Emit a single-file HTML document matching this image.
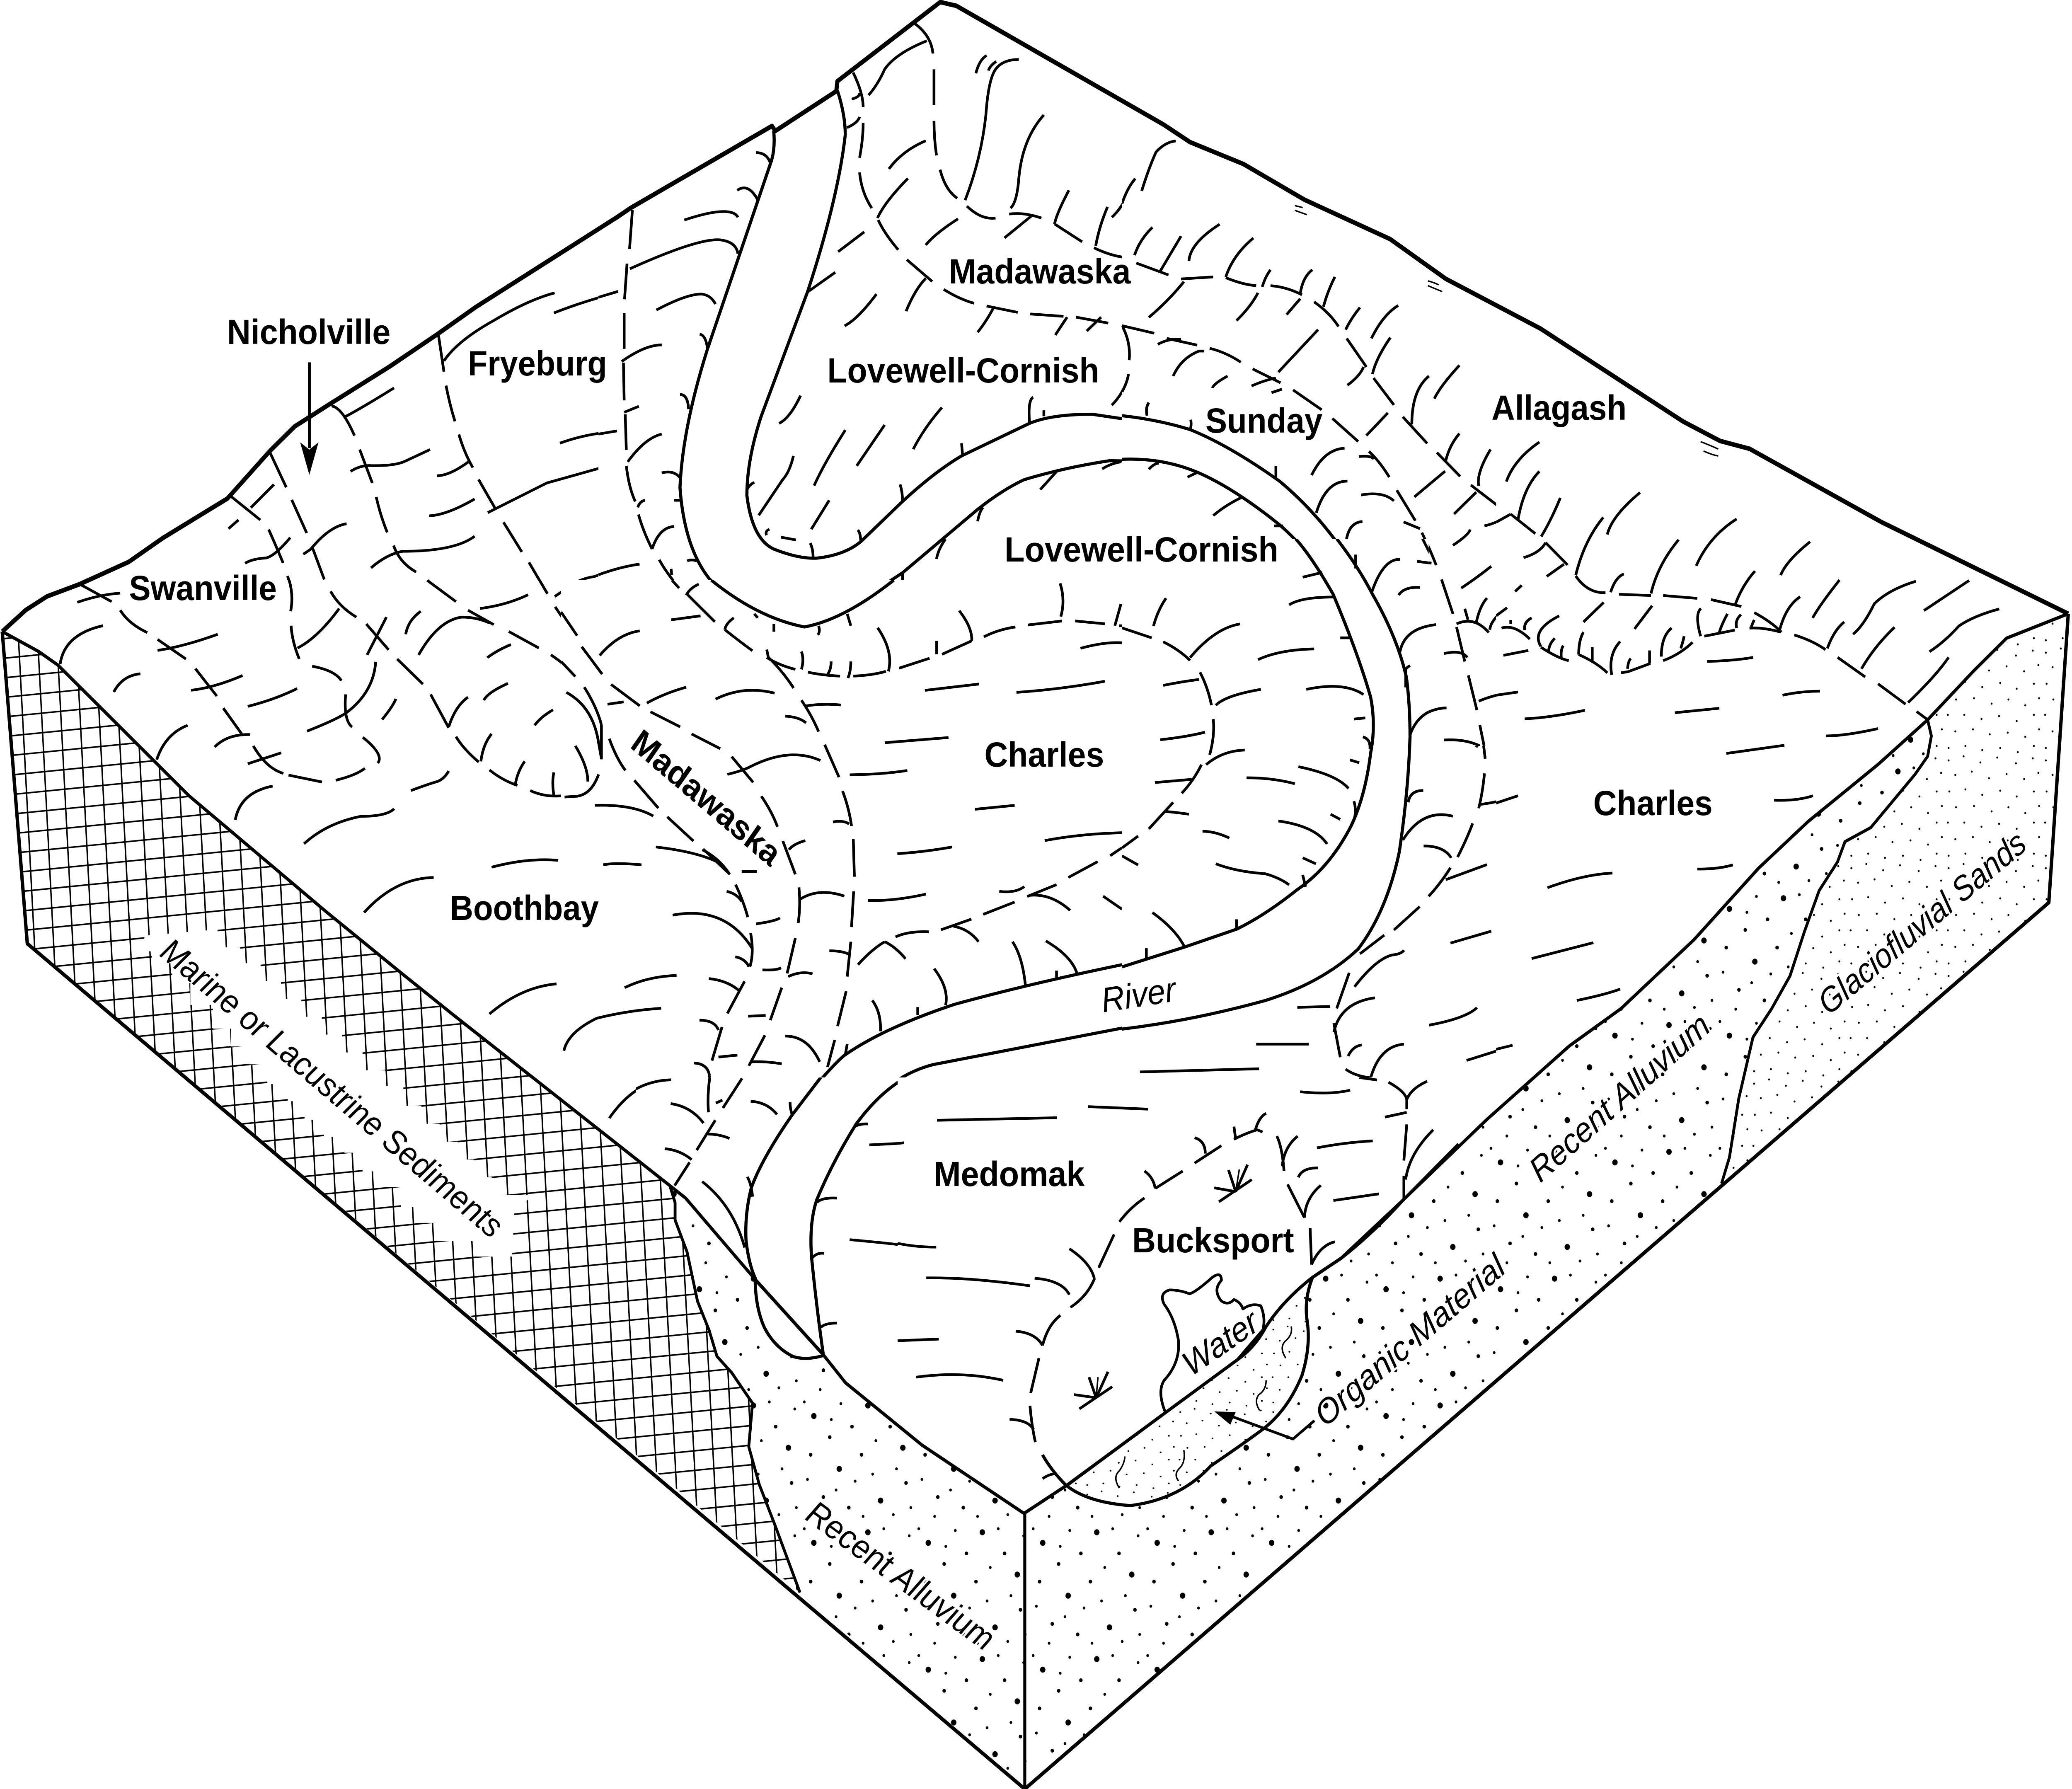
<!DOCTYPE html>
<html><head><meta charset="utf-8"><style>
html,body{margin:0;padding:0;background:#fff;overflow:hidden;width:100%;height:100%}
svg{display:block;position:fixed;left:0;top:0;width:100vw;height:100vh}
.z path{vector-effect:non-scaling-stroke}
.z{fill:none;stroke:#000;stroke-width:6.5;stroke-linecap:butt;stroke-linejoin:round}
.z .r{stroke-width:7.5}
.z .t{stroke-width:3.5}
.b{font:bold 84px "Liberation Sans",sans-serif;fill:#000}
.i{font:italic 84px "Liberation Sans",sans-serif;fill:#000}
.w{stroke:#fff;stroke-width:10;paint-order:stroke}
</style></head><body>
<svg xmlns="http://www.w3.org/2000/svg" viewBox="0 0 5540 4317" preserveAspectRatio="none">
<defs>
<pattern id="hatch" patternUnits="userSpaceOnUse" width="51" height="47" patternTransform="matrix(1 -0.09 0.058 1 76.1 1558.8)"><path d="M0 23.5H51M25.5 0V47" stroke="#000" stroke-width="3.8" fill="none"/></pattern>
<pattern id="coarse" patternUnits="userSpaceOnUse" width="360" height="360" patternTransform="scale(.85)"><g fill="#000">
<circle cx="40" cy="60" r="8.5"/><circle cx="210" cy="30" r="8.5"/><circle cx="320" cy="150" r="8.5"/><circle cx="120" cy="210" r="8.5"/><circle cx="250" cy="300" r="8.5"/>
<circle cx="90" cy="120" r="5.5"/><circle cx="160" cy="90" r="5.5"/><circle cx="280" cy="90" r="5.5"/><circle cx="30" cy="170" r="5.5"/><circle cx="190" cy="170" r="5.5"/><circle cx="330" cy="250" r="5.5"/><circle cx="70" cy="290" r="5.5"/><circle cx="150" cy="320" r="5.5"/>
<circle cx="10" cy="20" r="4.2"/><circle cx="125" cy="25" r="4.2"/><circle cx="260" cy="20" r="4.2"/><circle cx="340" cy="40" r="4.2"/><circle cx="235" cy="130" r="4.2"/><circle cx="95" cy="70" r="4.2"/><circle cx="170" cy="245" r="4.2"/><circle cx="20" cy="240" r="4.2"/><circle cx="300" cy="210" r="4.2"/><circle cx="225" cy="225" r="4.2"/><circle cx="290" cy="340" r="4.2"/><circle cx="110" cy="270" r="4.2"/><circle cx="345" cy="320" r="4.2"/><circle cx="195" cy="345" r="4.2"/><circle cx="60" cy="345" r="4.2"/>
</g></pattern>
<pattern id="fine" patternUnits="userSpaceOnUse" width="260" height="260"><path fill="none" stroke="#000" stroke-width="5" stroke-linecap="round" d="M10 15h.1M50 5h.1M95 20h.1M140 8h.1M190 22h.1M235 10h.1M28 50h.1M72 42h.1M118 58h.1M165 48h.1M212 60h.1M250 45h.1M12 90h.1M55 85h.1M100 98h.1M148 88h.1M192 102h.1M238 90h.1M30 128h.1M78 125h.1M125 138h.1M170 128h.1M215 142h.1M252 125h.1M8 165h.1M52 165h.1M98 175h.1M145 168h.1M192 180h.1M238 165h.1M28 205h.1M75 200h.1M120 212h.1M168 208h.1M215 218h.1M252 200h.1M10 245h.1M55 240h.1M100 250h.1M148 245h.1M195 255h.1M238 240h.1"/></pattern>
<clipPath id="c10"><rect x="550" y="0" width="1050" height="1400"/></clipPath>
<clipPath id="c1"><rect x="0" y="1000" width="550" height="400"/><rect x="0" y="1400" width="1500" height="900"/></clipPath>
<clipPath id="c3"><rect x="0" y="2300" width="1500" height="600"/></clipPath>
<clipPath id="c4"><rect x="1600" y="0" width="1500" height="300"/><rect x="1600" y="300" width="1400" height="1100"/></clipPath>
<clipPath id="c5"><rect x="3000" y="300" width="820" height="1000"/><rect x="3820" y="300" width="180" height="1500"/><rect x="4000" y="300" width="500" height="700"/></clipPath>
<clipPath id="c6"><rect x="4000" y="1000" width="1540" height="1540"/></clipPath>
<clipPath id="c7"><rect x="1500" y="1400" width="1500" height="1200"/><rect x="1500" y="2600" width="200" height="300"/></clipPath>
<clipPath id="c8"><rect x="3000" y="1300" width="820" height="1240"/><rect x="3820" y="1800" width="180" height="740"/><rect x="3000" y="2540" width="900" height="60"/><rect x="3900" y="2540" width="600" height="260"/></clipPath>
<clipPath id="c9"><rect x="1700" y="2600" width="700" height="1100"/></clipPath>
<clipPath id="c2"><rect x="2400" y="2600" width="1500" height="1200"/></clipPath>
</defs>
<rect width="5540" height="4317" fill="#fff"/>

<!-- faces -->
<path fill="url(#hatch)" d="M6 1524L103 1572L155 1605L505 1920L872 2200L1066 2343L1212 2449L1791 2861L1805 2902L1805 2944L1837 3021L1865 3140L1896 3210L1917 3273L1956 3312L2012 3386L2002 3491L2030 3582L2072 3680L2139 3843L73 2277Z"/>
<g class="z" transform="matrix(1.2117 0 0 .9566 0 2200)"><path style="fill:#fff;stroke:none" d="M320 60L480 45V90H530V130H575V175H620V220H665V265H710V310H755V355H800V400H850V440H890V490H930V535H970V580H1010V625H1045V670H1085V715H1175L1135 760L1130 870H1090V870H1050V830H965V785H925V745H885V695H840V655H800V608H760V568H715V525H672V478H635V435H590V385H550V340H510V295H470V235H420V180H380V130H335V100H310Z"/></g>
<path fill="url(#coarse)" d="M1791 2861L1833 2891L2016 3084L2202 3270L2261 3337L2465 3487L2738 3652L2740 4317L2139 3843L2072 3680L2030 3582L2002 3491L2012 3386L1956 3312L1917 3273L1896 3210L1865 3140L1837 3021L1805 2944L1805 2902Z"/>
<path fill="url(#coarse)" d="M2740 3652L2854 3583L3113 3411L3309 3281L3385 3201L3510 3082L3586 3036L3749 2898L3976 2701L4196 2524L4334 2434L4530 2267L4702 2095L4835 1982L5021 1845L5154 1737L5164 1776L5154 1825L5120 1869L5061 1933L5002 1997L4933 2031L4913 2080L4864 2149L4825 2247L4786 2355L4737 2434L4687 2503L4649 2651L4624 2793L4603 2856L2740 4317Z"/>
<path fill="url(#fine)" d="M5154 1737L5277 1619L5365 1540L5530 1481L5478 2178L4603 2856L4624 2793L4649 2651L4687 2503L4737 2434L4786 2355L4825 2247L4864 2149L4913 2080L4933 2031L5002 1997L5061 1933L5120 1869L5154 1825L5164 1776Z"/>

<!-- Outer block -->
<g fill="none" stroke="#000" stroke-linejoin="round">
<path stroke-width="11" d="M6 1524L69 1472L126 1439L212 1410L344 1356L436 1298L608 1203L723 1087L788 1029L880 976L1041 885L1167 808L1272 741L1462 632L1650 524L1686 502L2064 304L2073 316L2236 220L2239 196L2514 5L2557 14L3110 300L3182 343L3325 396L3488 482L3717 577L3866 673L4119 793L4500 1017L4599 1064L4678 1083L5031 1260L5530 1481"/>
<path stroke-width="9" d="M6 1524L73 2277L2740 4317L5478 2178L5530 1481"/>
<path stroke-width="8" d="M2740 3652V4317"/>
<path stroke-width="8" d="M6 1524L103 1572L155 1605L505 1920L872 2200L1066 2343L1212 2449L1791 2861L1833 2891L2016 3084L2202 3270L2261 3337L2465 3487L2738 3652L2854 3583L3113 3411L3309 3281L3385 3201L3510 3082L3586 3036L3749 2898L3976 2701L4196 2524L4334 2434L4530 2267L4702 2095L4835 1982L5021 1845L5154 1737L5277 1619L5365 1540L5530 1481"/>
<path stroke-width="7.5" d="M1791 2861L1805 2902L1805 2944L1837 3021L1865 3140L1896 3210L1917 3273L1956 3312L2012 3386L2002 3491L2030 3582L2072 3680L2139 3843"/>
<path stroke-width="7.5" d="M5154 1737L5164 1776L5154 1825L5120 1869L5061 1933L5002 1997L4933 2031L4913 2080L4864 2149L4825 2247L4786 2355L4737 2434L4687 2503L4649 2651L4624 2793L4603 2856"/>
</g>

<!-- Z10 -->
<g clip-path="url(#c10)"><g class="z" transform="matrix(.7015 0 0 .7015 550 450)">
<path d="M95 1065L208 1147M240 1180Q265 1230 295 1295M312 1340Q330 1390 327 1462M325 1512Q327 1550 340 1568M245 915L307 1035M328 1078L385 1192M405 1238L452 1352M478 1392Q510 1440 570 1478M612 1503Q660 1535 685 1568M480 755Q520 760 567 857M587 905L635 1020M650 1068Q665 1130 692 1190M716 1235Q740 1295 802 1326M845 1355L952 1425M992 1450L1105 1512M1152 1530L1235 1568M887 510L908 637M916 685Q930 750 950 808M965 853Q985 915 1018 967M1040 1008L1105 1110M1135 1155L1205 1257M1232 1293L1303 1402M1330 1440L1405 1543"/>
<path d="M908 600Q960 530 1100 460Q1230 390 1330 366M1327 435Q1440 395 1568 365M525 795Q580 770 718 693M552 980Q590 958 630 960Q720 962 760 945L855 905M882 995Q930 995 1005 945M1350 883Q1450 850 1568 842M852 1133Q920 1130 1025 1075M1075 1122Q1200 1065 1300 1020Q1400 995 1505 968M172 1105L260 1025M87 1177L125 1147M150 1296Q180 1280 230 1278Q265 1270 322 1208M372 1265L400 1248Q470 1170 537 1160M630 1312Q690 1265 750 1255Q950 1255 1025 1203M1048 1455Q1170 1445 1230 1408M1332 1410Q1410 1350 1480 1342L1568 1315M375 1568Q440 1520 530 1418M758 1540Q770 1490 820 1462M840 1568Q900 1490 980 1482Q1040 1482 1065 1500M0 1555L45 1542M640 1568Q670 1520 695 1478"/>
<path style="stroke-width:7" d="M395 605V900"/>
<path style="fill:#000;stroke:none" d="M360 880L395 905L430 880L395 992Z"/>
</g></g>

<!-- Z1 -->
<g clip-path="url(#c1)"><g class="z" transform="matrix(1.148 0 0 .829 0 1000)">
<path d="M190 497L260 545M280 570Q300 610 343 635M367 655L433 712M455 740L505 820M520 855L563 930M590 965Q620 1030 660 1045M672 1050L750 1070M782 1065Q830 1050 850 1030M880 1015Q895 990 845 940M820 910Q800 890 805 815M535 237L605 310M627 340L660 430M670 470Q685 520 677 573M678 615Q680 660 697 712M727 733Q780 745 795 775M625 110L665 210M680 250L715 345M730 390L755 480M770 515Q790 560 830 590M853 610L905 685M925 712L985 785M1003 815L1045 912M1062 938Q1080 975 1115 1012M1140 1035Q1170 1065 1205 1080M1235 1095Q1270 1115 1310 1110M1340 1110Q1380 1105 1395 1050M800 0L825 60M845 103L865 200M880 240Q885 290 903 342M920 385Q935 430 968 458M995 483L1062 545M1090 570L1150 612M1185 632L1255 680M1283 700Q1320 730 1340 763M1360 793L1395 880M1400 910L1402 1030M1070 60Q1085 105 1100 153M1117 190L1155 275M1175 315L1215 400M1233 432L1275 522M1293 560L1337 643"/>
<path d="M180 547Q230 525 280 520M140 727Q150 640 240 615M265 808Q285 760 327 755M367 687Q430 675 507 640M445 803Q500 795 565 760M577 850Q640 830 692 798M365 1005Q385 930 437 905M500 968Q530 930 583 932M577 1017L655 985M715 922Q780 890 805 870Q870 810 875 720M890 888Q915 850 922 828M693 680Q740 650 790 565M572 432Q600 420 620 420Q650 410 675 358M707 405L730 385Q770 325 805 318M855 700L900 590M945 640Q950 600 980 573M975 700Q1020 600 1075 590Q1110 590 1140 607M1135 708Q1160 685 1190 670M1308 678L1325 675M1045 910Q1060 850 1090 823M1127 832Q1135 810 1183 783M1120 1010Q1125 960 1145 930M1245 905Q1260 880 1288 860M1320 808Q1370 840 1390 905Q1400 950 1398 970M1342 962Q1370 1020 1368 1098M1200 1078Q1205 1040 1222 1010M1290 1110Q1285 1070 1290 1042M957 1095Q1000 1075 1020 1068Q1035 1060 1045 1038M548 1180Q560 1100 635 1082M708 1250Q760 1190 840 1170Q900 1170 918 1148M848 1450Q920 1350 1010 1348M1145 1318Q1230 1290 1300 1298M1292 530Q1350 480 1400 460M1118 565Q1180 555 1230 525M865 443Q910 395 960 395Q1060 395 1105 350"/>
</g></g>

<!-- Z3 -->
<g clip-path="url(#c3)"><g class="z" transform="matrix(1.2117 0 0 .9566 0 2200)"><path d="M1080 258Q1150 190 1228 182"/></g></g>

<!-- Z4 -->
<g clip-path="url(#c4)"><g class="z" transform="matrix(.9566 0 0 .9566 1600 0)">
<path class="r" d="M490 330Q495 380 480 415L305 880Q235 1080 228 1230Q240 1380 310 1460Q420 1560 510 1568M668 228Q690 290 690 340Q670 500 585 735L455 1050Q415 1160 415 1250Q430 1360 490 1385Q560 1410 610 1408Q690 1400 735 1365L850 1265Q940 1190 1015 1150L1200 1070Q1260 1045 1380 1045L1568 1070M630 1568Q740 1510 850 1445L1060 1285Q1130 1235 1190 1210Q1300 1180 1430 1162L1568 1165"/>
<path d="M885 60Q930 90 935 135M938 175V265M938 305Q938 350 945 392M955 428Q970 480 1003 500M1030 520Q1070 555 1110 550M1148 540Q1190 535 1238 550M1275 565L1352 610M1385 625Q1430 645 1475 650M1507 665L1568 688M712 183Q740 235 740 270M740 310Q740 350 730 398M730 435Q735 485 764 525M782 555Q800 590 838 630M862 655L933 710M965 730Q1010 755 1050 765M1085 772L1172 788M1207 792L1300 798M1335 800L1425 815M1465 822L1552 838M1465 822Q1490 870 1485 908M1478 945Q1475 985 1435 1022"/>
<path d="M755 240Q780 215 800 175Q830 135 918 103M708 250Q730 245 730 235M695 322Q725 310 730 295M812 426Q850 380 915 355M780 550Q800 510 865 450M670 635L743 585M587 735L662 687M915 618Q940 590 1005 552M1135 600L1210 545M688 822Q725 805 777 742M860 785Q885 730 915 702M1060 838Q1085 810 1105 775M1277 845L1310 800M1365 835L1405 800M505 1068Q535 1055 565 998M880 1133Q910 1080 960 1028M722 1175L800 1072M603 1225Q630 1170 690 1085M448 1300L515 1210Q535 1190 545 1150M595 1335L645 1262M1015 1118L1018 1150M850 1265Q850 1240 843 1222M415 1235Q425 1220 436 1217M1205 1065Q1200 1010 1215 1002M1245 1035V1050M1533 1045Q1530 1025 1538 1015M470 1350Q465 1340 478 1335M510 1355L552 1362M600 1405Q600 1385 592 1370M733 1365Q733 1345 725 1337M945 1410Q950 1385 970 1360M1060 1315Q1065 1290 1075 1280M1235 1235L1285 1185M1408 1183Q1430 1170 1460 1165M1055 185Q1065 150 1085 140M1090 178Q1095 165 1112 155M1025 505Q1070 400 1083 290Q1090 200 1110 175Q1130 150 1175 150M1152 525Q1170 510 1175 450Q1185 350 1245 290M1275 565Q1280 540 1315 480M1390 620Q1400 570 1423 522M1435 548Q1470 520 1500 450M1518 482Q1530 440 1568 375M1500 645Q1510 610 1550 570M440 385Q470 385 480 410M388 480Q420 460 447 507M240 555Q340 525 375 537Q385 540 390 548M88 678Q280 600 340 605Q385 610 390 640M0 750L55 735M162 782Q250 740 290 742Q315 745 327 767M283 843Q300 845 305 880M65 912Q130 870 177 870M0 1095L52 1087M228 995Q250 995 252 1032M72 1040L113 1025M82 1165Q130 1105 177 1095M177 1193Q210 1185 228 1205M212 1262H230M110 1280Q115 1265 130 1262M150 1385Q170 1330 212 1328M248 1415Q260 1410 275 1415M0 1450Q60 1430 115 1423M203 1435L205 1450M248 1503Q260 1480 285 1475M340 1500L355 1492M205 1565Q250 1550 290 1555M365 1568L380 1550M435 1560L445 1550M95 530L87 628M80 665L73 755M72 790V880M70 915L72 1010M75 1045L78 1135M78 1175Q85 1230 103 1265M112 1298Q125 1340 150 1385M170 1412Q190 1445 225 1482M250 1505L325 1568M850 1445V1470M1290 1470Q1305 1510 1295 1555M1462 1502Q1465 1530 1455 1568M1010 1540L1030 1568M700 1550L705 1568M1540 800L1568 770"/>
</g></g>

<!-- Z5 -->
<g clip-path="url(#c5)"><g class="z" transform="matrix(.9566 0 0 .9566 3000 300)">
<path class="r" d="M0 735Q100 745 190 770Q300 810 440 900Q560 990 650 1120Q750 1270 795 1420Q805 1480 805 1568M0 845Q130 840 240 890Q330 930 440 1010Q530 1080 600 1190Q660 1320 695 1430Q710 1500 700 1568"/>
<path d="M40 350L130 380M165 390L255 385M290 387Q340 405 375 407M415 407Q460 410 503 430M537 448Q580 475 605 510M628 540L683 612M703 640L760 708M785 738L853 805M880 828L945 888M975 910L1050 962M1085 985L1157 1033M1187 1052L1248 1110M1270 1140Q1300 1175 1352 1182M1390 1185L1478 1190M1515 1188L1568 1190M0 508L90 527M125 540L210 557M245 565Q290 575 332 600M365 617L443 652M478 670L558 720M588 742L660 800M690 825Q720 850 747 890M768 923L820 1000M838 1030Q860 1070 878 1112M893 1148L925 1235M935 1268L958 1355M968 1390L992 1478M1000 1515L1012 1568M0 508Q25 550 20 595M18 630Q15 650 0 675"/>
<path d="M55 168Q75 110 95 70Q120 45 150 42M0 200Q15 160 37 137M35 330Q50 290 85 260M107 370L165 282M187 345Q190 300 273 252M290 385Q310 330 367 287M392 410Q400 385 415 367M498 428Q505 385 532 367M563 460Q575 420 595 385M625 518Q640 490 665 462M697 540Q730 480 772 457M700 630Q710 590 750 538M630 658Q665 635 675 612M810 757Q810 670 858 635M873 692Q890 660 943 608M75 487Q130 445 173 397M320 495Q360 460 380 425M460 480L498 440M437 625L548 518M100 555Q130 540 165 542M143 635Q165 590 215 572L230 572M253 665Q255 655 295 635M362 660Q400 645 430 640M418 677L447 668M683 785L743 728M905 848Q915 810 943 780M997 912Q990 880 1030 820M1073 900Q1090 850 1167 800M1110 988Q1130 900 1167 875M1175 1037Q1195 1020 1225 940M1270 1135Q1280 1060 1345 992M1360 1035Q1370 990 1445 930M1355 1182Q1375 1140 1402 1135M1478 1182Q1500 1100 1555 1050M1290 1252Q1320 1210 1345 1205M1432 1272L1480 1215M817 940L903 875M928 983L990 928M925 1062Q970 1035 973 1022M1013 1013Q1050 1005 1085 985M1122 1095Q1170 1080 1187 1055M1187 1140L1235 1108M1098 1180L1115 1165M948 1170Q990 1145 1032 1115M530 885Q565 820 622 817M662 838Q700 835 703 845M543 980Q570 900 630 900M668 935Q730 925 760 950M787 1003L833 1020M625 1075Q625 1005 672 1002M698 1180Q730 1095 777 1097M825 1102L865 1107M773 1187Q790 1165 833 1168M777 1330Q790 1270 878 1262M190 770Q195 760 192 745M70 735Q65 715 75 702M430 890V862M75 870Q90 855 103 855M183 890L213 877M255 987Q290 960 337 940M425 1013L450 1013M505 1140L560 1130M467 1212Q500 1190 595 1192M653 1120V1083M88 1265Q100 1225 123 1197M0 1272L83 1295M115 1305Q160 1325 190 1352M190 1345Q260 1270 330 1262M380 1352Q440 1325 537 1323M900 1335Q950 1325 965 1345M997 1455Q1050 1435 1107 1432M1125 1500Q1200 1500 1293 1478M1545 1483H1568M1067 1338L1137 1327M900 1553Q960 1550 1000 1568M805 1540Q830 1475 907 1472M935 1260Q985 1240 1025 1282M958 1222L967 1250M990 1257Q1000 1215 1020 1195M1028 1275Q1030 1250 1075 1220M1062 1272Q1095 1255 1138 1298M1085 1265Q1085 1255 1093 1248M1125 1282Q1120 1260 1142 1247M1165 1310Q1150 1270 1222 1243M1170 1320Q1230 1360 1250 1355M1195 1325Q1195 1310 1208 1297M1225 1345Q1220 1325 1235 1317M1280 1335Q1270 1300 1295 1285M1280 1335Q1330 1360 1360 1385M1317 1350V1320M1368 1388Q1365 1330 1392 1305M1397 1385L1425 1382L1478 1360M1415 1375Q1412 1355 1420 1345M1478 1360V1330M1510 1340Q1505 1290 1535 1275M1518 1352L1568 1330M1560 1320Q1555 1300 1568 1285"/>
<path class="t" d="M483 205L505 210M483 217L517 228M855 395Q875 400 885 405M855 407L895 422"/>
</g></g>

<!-- Z6 -->
<g clip-path="url(#c6)"><g class="z" transform="matrix(.9821 0 0 .9821 4000 1000)">
<path d="M135 315L195 370M217 397Q250 440 298 438M335 442L422 445M455 445L548 452M585 455L668 472M703 487Q750 510 777 535M812 542Q860 555 897 578M930 597L1005 645M1040 662L1115 712M1145 730L1175 750M40 245L107 293M0 265L40 245M690 525Q730 523 775 535"/>
<path d="M28 165Q50 110 118 68M60 258Q75 180 118 140M123 300Q150 260 175 205M217 395Q240 310 292 253M303 295Q315 250 392 192M312 437Q325 400 348 392M422 440Q440 370 497 308M545 372Q580 300 655 257M650 470Q670 420 705 385M775 395Q790 360 855 313M772 530Q790 470 828 448M862 500Q880 470 935 407M902 575Q920 530 948 510M972 540Q1000 520 1030 465Q1070 430 1143 410M995 625Q1030 570 1085 523M1165 482L1288 408M1180 583Q1220 560 1260 520Q1300 495 1370 478M1122 708Q1200 640 1232 597M75 352Q120 340 135 315M138 398L185 368M52 435L70 420M238 510L293 462M377 527L425 470M0 495L30 475M15 525Q50 515 92 552M40 515V505M78 530Q75 510 97 500M122 570Q95 530 172 495M122 572Q170 600 198 605M143 585Q143 565 160 550M178 600Q175 580 183 568M225 590Q225 555 238 535M225 590Q275 610 303 635M262 610V572M315 640Q305 590 338 558M340 635L360 632L420 612M358 625Q360 605 367 600M418 612V580M450 595Q450 545 478 525M455 605Q500 590 535 560M503 575Q510 555 512 545M557 545Q540 490 558 477M567 545L650 530M608 535Q615 515 630 490M655 525Q650 505 667 492M695 522Q700 510 703 505M20 592L88 580M575 607Q650 605 700 597M0 690L60 682M78 748Q150 745 242 727M487 733L608 722M780 690Q830 680 882 680M898 790Q950 790 1040 772M627 833L785 813M0 955L60 937M757 948Q820 950 863 937M140 1163Q240 1130 317 1127M548 1117Q600 1118 645 1107M97 1337L265 1298M220 1440Q300 1425 338 1412M0 1560L45 1550"/>
<path class="t" d="M557 67Q580 75 605 85M565 90Q590 100 605 102"/>
</g></g>

<!-- Z7 -->
<g clip-path="url(#c7)"><g class="z" transform="matrix(.9566 0 0 .9566 1500 1400)">
<path class="r" d="M420 0Q550 95 680 118Q790 100 930 0M1568 970Q1300 1020 1100 1070Q900 1130 790 1200Q740 1240 640 1355Q560 1450 525 1568M1568 1130L1040 1222Q920 1250 840 1350Q750 1470 712 1568"/>
<path d="M0 80L45 140M58 168L115 237M140 263L220 317M250 332L333 370M365 388L445 425M477 445L537 510M560 545Q590 585 605 622M620 658L655 742M665 775Q670 820 663 865M655 903L632 992M617 1028L585 1110M570 1148L525 1225M503 1258L450 1333M430 1362L380 1438M360 1468L318 1530M310 0L330 20M352 35L430 105M458 125Q500 155 535 178M575 195Q610 215 655 225M690 232Q730 240 780 242M817 242Q870 240 908 230M945 222L1030 197M1065 187L1148 153M1182 143Q1220 125 1270 118M1305 113L1400 103M1437 103L1520 110M1560 115L1568 115M580 195Q620 230 650 272M672 303Q700 340 720 382M737 415L777 497M787 532Q805 575 812 620M817 653L820 748M818 785L812 875M810 912L800 1000M797 1037L773 1125M765 1160L745 1228M135 400Q155 450 180 480M205 505L272 575M297 597L370 658M397 678L472 742M505 735H548M488 768Q510 810 522 850M530 890Q540 940 528 975M513 1012L465 1093M450 1127L422 1212M415 1250L412 1340M0 205L40 243M65 270Q100 320 113 365M113 365V452M105 490Q85 540 45 545L10 547M830 970Q870 930 905 912M935 900Q970 885 1028 887M1062 882L1147 855M1180 843L1268 812M1303 798L1385 768M1418 750L1500 710M1535 695L1568 675"/>
<path d="M108 190Q160 135 220 128M308 100L390 90M130 313L175 307M240 310Q290 285 350 270M432 300Q510 265 597 285M15 283Q90 320 105 410Q110 435 113 450M40 418Q75 470 75 508M465 490Q510 480 530 470Q640 420 725 455M680 318Q730 310 782 315M627 343Q665 345 685 360M905 410L1083 397M807 491Q900 490 968 480M1017 278L1168 262M1273 283Q1400 275 1520 255M1452 172Q1520 155 1568 158M1113 77Q1150 120 1148 153M1395 8Q1410 50 1397 92M885 120Q930 180 915 230M1050 153V187M1565 60L1548 115M800 85L810 115M720 115Q725 130 718 138M595 110V130M540 85L550 95M385 10Q360 20 350 38M483 95Q460 110 458 125M575 175L580 197M672 180Q680 200 672 225M755 205Q755 225 745 238M810 205Q810 230 802 247M95 568Q200 565 258 595M265 673Q380 685 440 712M395 680Q440 700 470 740M118 718Q150 712 225 718M1157 578L1268 568M940 690Q1020 685 1093 673M1352 657Q1450 640 1568 637M760 610Q790 605 805 615M637 680Q650 665 683 657M668 805Q720 775 792 797M858 808Q930 810 1020 792M545 867Q600 860 612 852M463 785Q490 790 505 810M312 845Q460 820 535 930M487 950Q515 955 525 975M750 935Q790 935 807 945M563 983Q600 985 615 978M635 1000Q670 985 703 993M1225 785Q1270 790 1295 773M1310 795Q1370 790 1423 833M1515 797L1568 830M1097 873Q1140 880 1167 912M905 912Q935 925 963 955M1043 980Q1085 1030 1075 1072M1262 912Q1290 950 1298 1022M1355 910Q1430 950 1443 995M1385 985V1005M870 1060Q895 1090 893 1138M997 1077V1097M178 1028Q240 1000 323 997M413 1005Q465 1010 497 1035M8 1187Q20 1140 100 1105Q190 1085 280 1080M523 1100L572 1098M387 1110Q430 1110 440 1135M440 1203L493 1198M627 1150Q690 1150 723 1215M530 1215Q570 1213 617 1220M372 1218Q410 1220 415 1250M795 1195L800 1170M135 1357Q210 1260 307 1260M432 1320L455 1312M530 1317Q580 1320 603 1347M307 1322Q370 1325 400 1370M412 1395Q440 1397 470 1408M645 1345Q640 1330 643 1315M290 1435Q340 1440 370 1465M820 1378Q835 1370 857 1375M862 1425L958 1420M1050 1362L1385 1355M1475 1328L1568 1333M393 1518Q450 1550 475 1568M523 1510L535 1530"/>
</g></g>

<!-- Z8 -->
<g clip-path="url(#c8)"><g class="z" transform="matrix(.9566 0 0 .9566 3000 1300)">
<path class="r" d="M600 0Q660 70 700 140Q770 250 795 350Q805 420 805 500Q800 640 775 790Q740 940 660 1035Q560 1120 400 1165Q200 1215 0 1237M485 0Q530 45 590 140Q660 290 695 400Q710 470 695 540Q680 650 640 725Q580 830 490 885Q400 950 320 985L175 1030L0 1080"/>
<path d="M840 0L878 68M893 100L925 187M935 222L958 310M968 345L992 433M1000 470Q1010 510 1015 555M1013 592Q1008 640 997 680M980 718Q965 755 938 803M918 830Q890 870 857 902M832 928L760 987M733 1000L665 1047M635 1095L600 1185M592 1222L610 1308M625 1338Q650 1355 695 1360M745 1370Q790 1385 795 1418M797 1437V1475M797 1480Q795 1530 788 1568"/>
<path d="M505 97L560 85M467 167Q500 147 595 147M610 250H635M653 75V40M698 135Q730 50 777 52M773 142Q790 120 833 123M825 57L865 62M777 285Q790 225 878 217M793 375V330Q795 325 805 320M805 495Q830 430 907 425M900 505Q950 495 995 525M800 665Q805 635 842 635M785 760Q840 680 925 700M843 775Q900 775 920 805M1003 670Q1050 665 1107 648M905 860L1020 822M1190 880Q1290 845 1368 845M918 1020L1032 990M1143 1060L1317 1020M1272 1165L1392 1137M858 1227Q960 1210 992 1183M963 1316L1090 1280M650 1130Q710 1060 755 1050Q780 1048 788 1038M490 1182L582 1180M592 1245Q610 1170 707 1158M375 1275H522M50 1345L383 1337M632 1305Q645 1280 670 1277M695 1360Q720 1280 788 1275M498 1397Q580 1398 637 1390M0 1437L75 1438M795 1412Q810 1380 852 1367M735 1458L797 1447M813 1568Q825 1535 868 1492M545 1538Q630 1520 700 1518M0 225L83 250M115 260Q160 280 190 307M190 300Q260 225 330 215M380 305Q440 280 537 278M88 220Q100 180 123 150M115 370Q170 360 215 355M218 337Q240 375 250 420M255 455Q260 495 245 545M262 420Q290 395 388 380M515 380Q620 360 675 393M648 455L680 452M107 507Q180 500 232 488M673 500Q695 505 693 530M637 558L663 565M235 570Q280 535 343 533M92 615L195 607M222 570Q200 610 167 642M348 603Q420 603 483 618M493 575Q600 595 633 630M143 665L75 732M120 688Q150 690 187 695M45 750L0 780M0 800L45 823M225 738Q260 738 300 755M437 712Q540 725 573 770M583 695L610 708M648 662Q655 680 650 705M262 820Q320 840 400 845Q440 855 467 873M505 805L542 820M505 848L513 878M85 943Q150 985 175 1030M320 960V985M68 1033V1058"/>
</g></g>

<!-- Z9 -->
<g clip-path="url(#c9)"><g class="z" transform="matrix(.7015 0 0 .7015 1700 2600)">
<path style="fill:#fff;stroke:none" d="M455 690Q455 790 490 860Q530 930 600 960Q650 975 720 955Z"/>
<path d="M450 690L716 955" style="stroke-width:8"/>
<path class="r" d="M705 0L595 130Q480 280 440 380Q415 470 420 560Q430 640 455 690Q455 790 490 860Q530 930 600 960Q650 975 720 955M1030 0Q930 50 840 160Q750 290 690 420Q660 500 670 620Q690 800 715 955"/>
<path d="M0 40Q60 10 135 8M133 90Q210 100 258 157M282 0Q272 60 277 120M405 3L332 105M305 88L330 78M438 82Q500 85 538 127M588 85Q588 110 597 130M303 147L232 250M275 195Q320 195 357 210M110 245Q170 250 213 283M205 292L148 372M253 358Q370 440 415 585M425 342Q440 365 445 410M690 430Q710 412 767 415M673 620Q690 602 718 605M705 860Q720 845 767 845M835 168Q860 158 885 160M890 232L1022 226"/>
<path d="M815 558Q960 570 1000 575"/>
</g></g>

<!-- Z2 -->
<g class="z" transform="matrix(.9566 0 0 .7653 2400 2600)">
<path style="fill:#fff;stroke:none" d="M1160 630Q1135 700 1145 770Q1155 850 1130 940Q1090 1050 1020 1110Q960 1160 875 1225Q790 1330 650 1350Q530 1340 470 1285L745 1060L950 890Q1000 850 1030 785Q1080 700 1160 630Z"/>
<path style="fill:url(#fine);stroke:none" d="M1160 630Q1135 700 1145 770Q1155 850 1130 940Q1090 1050 1020 1110Q960 1160 875 1225Q790 1330 650 1350Q530 1340 470 1285L745 1060L950 890Q1000 850 1030 785Q1080 700 1160 630Z"/>
</g>
<g clip-path="url(#c2)"><g class="z" transform="matrix(.9566 0 0 .7653 2400 2600)">
<path class="r" d="M475 1285L745 1060L950 890Q1000 850 1030 785Q1080 700 1160 630L1240 570Q1330 490 1410 390L1568 210M1160 630Q1135 700 1145 770Q1155 850 1130 940Q1090 1050 1020 1110Q960 1160 875 1225Q790 1330 650 1350Q530 1340 470 1285Q430 1240 405 1190"/>
<path d="M748 1055Q725 990 745 955Q790 900 785 830Q775 760 745 715Q730 680 760 670Q790 670 815 682Q830 680 880 630Q905 610 905 640Q880 670 905 705Q925 720 940 700Q960 710 965 730Q990 710 1015 720Q1030 760 1020 800"/>
<path d="M1165 1082L1105 1140L925 1065"/>
<path style="fill:#000;stroke:none" d="M885 1053L945 1055L930 1095Z"/>
<path d="M385 1150Q375 1100 370 1035M372 995L395 885M405 845Q420 780 455 750M483 725Q530 690 550 635M562 600L605 495M620 455Q650 410 690 380M720 350L797 295M830 270L905 215M940 195Q975 175 1005 165L1020 172M1000 165Q1010 125 1030 113M1060 185Q1075 220 1080 295M1090 337L1137 442M1153 475L1157 590M1157 590Q1180 530 1222 518M1137 442Q1140 380 1183 340M1075 280Q1080 220 1118 185M940 155L945 195M860 240Q860 200 830 190M720 350Q715 315 690 295M550 635Q540 585 480 540M405 845Q385 805 330 800M480 685Q460 640 383 633M380 1110Q365 1080 313 1078M80 632Q200 630 370 657M0 523Q50 535 108 535M0 830L115 825M52 945Q180 925 295 955M110 135L445 127M532 92L700 100M1125 45Q1210 55 1265 40M1290 0L1340 8M1372 15Q1420 45 1423 70M1423 70V100M1423 70Q1435 35 1480 12M1362 125L1423 110M1423 148L1415 262M1420 322Q1430 240 1497 165M1415 390V310M1172 222Q1250 205 1328 200M1218 388L1345 367M1120 315Q1130 285 1175 285M0 208L18 206M405 1265Q425 1250 440 1250"/>
<path d="M898 392L990 322M945 360L885 348M945 360L925 292M945 360L978 275M508 1045L600 975M555 1010L493 1000M555 1010L535 945M555 1010L588 928"/>
<path class="t" d="M945 360L955 290M555 1010L560 945"/>
<path class="t" d="M1100 785Q1105 810 1085 830Q1065 850 1085 885M1030 955Q1030 985 1010 1000Q995 1020 1012 1050M635 1195Q635 1215 620 1240Q600 1260 620 1295M800 1175Q805 1210 790 1230Q770 1250 785 1272"/>
</g></g>

<!-- Labels -->
<g class="b">
<text x="607" y="830" textLength="437" lengthAdjust="spacingAndGlyphs">Nicholville</text>
<text x="1251" y="906" textLength="372" lengthAdjust="spacingAndGlyphs">Fryeburg</text>
<text x="345" y="1448" textLength="395" lengthAdjust="spacingAndGlyphs">Swanville</text>
<text x="1203" y="2220" textLength="398" lengthAdjust="spacingAndGlyphs">Boothbay</text>
<text x="2537" y="684" textLength="486" lengthAdjust="spacingAndGlyphs">Madawaska</text>
<text x="2212" y="923" textLength="727" lengthAdjust="spacingAndGlyphs">Lovewell-Cornish</text>
<text x="3223" y="1044" textLength="313" lengthAdjust="spacingAndGlyphs">Sunday</text>
<text x="3988" y="1013" textLength="361" lengthAdjust="spacingAndGlyphs">Allagash</text>
<text x="2686" y="1355" textLength="732" lengthAdjust="spacingAndGlyphs">Lovewell-Cornish</text>
<text x="2632" y="1850" textLength="320" lengthAdjust="spacingAndGlyphs">Charles</text>
<text x="4260" y="1967" textLength="319" lengthAdjust="spacingAndGlyphs">Charles</text>
<text x="2496" y="2862" textLength="404" lengthAdjust="spacingAndGlyphs">Medomak</text>
<text x="3027" y="3022" textLength="433" lengthAdjust="spacingAndGlyphs">Bucksport</text>
<text transform="translate(1682 1802) rotate(37.6)" textLength="477" lengthAdjust="spacingAndGlyphs">Madawaska</text>
</g>
<g class="i">
<text transform="translate(2949 2443) rotate(-8)" textLength="200" lengthAdjust="spacingAndGlyphs">River</text>
<text transform="translate(424 2305) rotate(37.6)" textLength="1125" lengthAdjust="spacingAndGlyphs">Marine or Lacustrine Sediments</text>
<text class="w" transform="translate(2150 3665) rotate(33.6)" textLength="581" lengthAdjust="spacingAndGlyphs">Recent Alluvium</text>
<text class="w" transform="translate(4118 2856) rotate(-38.9)" textLength="591" lengthAdjust="spacingAndGlyphs">Recent Alluvium</text>
<text class="w" transform="translate(4889 2452) rotate(-37.2)" textLength="671" lengthAdjust="spacingAndGlyphs">Glaciofluvial Sands</text>
<text class="w" transform="translate(3543 3446) rotate(-37.8)" textLength="617" lengthAdjust="spacingAndGlyphs">Organic Material</text>
<text transform="translate(3184 3323) rotate(-32)" textLength="221" lengthAdjust="spacingAndGlyphs">Water</text>
</g>
</svg>
</body></html>
